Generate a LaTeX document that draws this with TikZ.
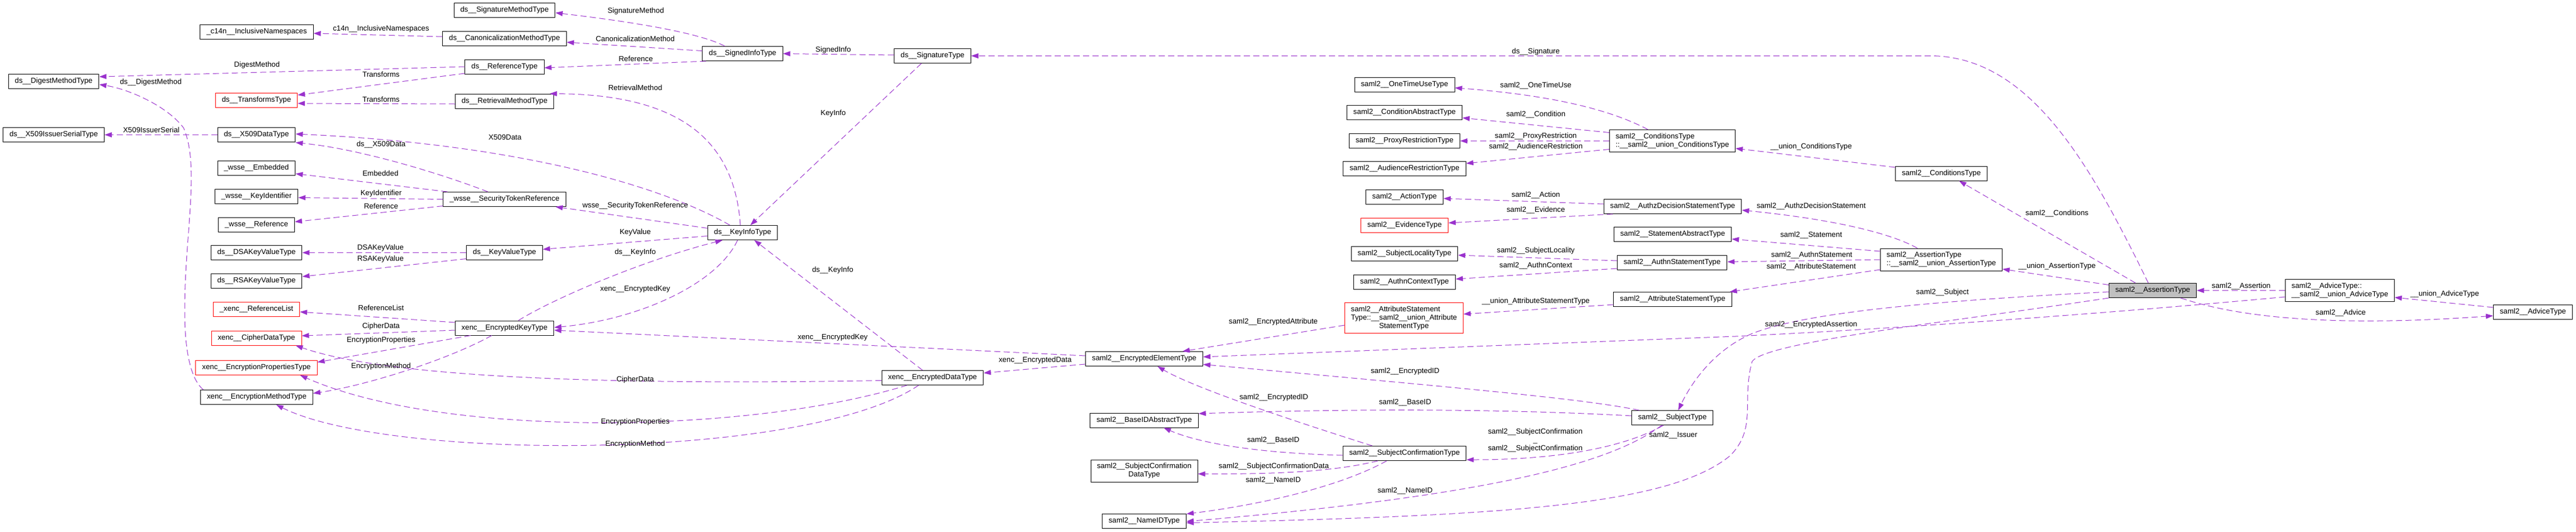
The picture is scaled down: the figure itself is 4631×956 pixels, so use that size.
\documentclass[tikz,border=0pt]{standalone}
\usepackage{fontspec}
\setmainfont{Liberation Sans}
\usetikzlibrary{arrows.meta,calc}
\definecolor{edgec}{HTML}{9A32CD}
\definecolor{rootfill}{HTML}{BFBFBF}
\begin{document}
\begin{tikzpicture}[x=1pt,y=-1pt,font=\fontsize{13.3}{15}\selectfont,
 cls/.style={draw=black, line width=1pt, fill=white, inner xsep=11.5pt, inner ysep=0pt, minimum height=26pt, text height=9.6pt, text depth=2.9pt},
 redcls/.style={cls, draw=red},
 rootcls/.style={cls, fill=rootfill},
 mcls/.style={draw=black, line width=1pt, fill=white, inner xsep=11pt, inner ysep=5pt},
 redmcls/.style={mcls, draw=red},
 lbl/.style={inner sep=0pt},
 edge/.style={draw=edgec, line width=1pt, dash pattern=on 11pt off 6pt, -{Triangle[length=13pt,width=9pt]}}]
\fill[white] (0,0) rectangle (4631,956);
\useasboundingbox (0,0) rectangle (4631,956);
% ---------- nodes ----------
\node[cls] (dmt) at (96.5,146) {ds\_\_DigestMethodType};
\node[cls] (x509is) at (96.5,242.5) {ds\_\_X509IssuerSerialType};
\node[cls] (c14n) at (461.5,57) {\_c14n\_\_InclusiveNamespaces};
\node[redcls] (transforms) at (461,180) {ds\_\_TransformsType};
\node[cls] (x509data) at (461,242.5) {ds\_\_X509DataType};
\node[cls] (embedded) at (461,302.5) {\_wsse\_\_Embedded};
\node[cls] (keyid) at (461,353.5) {\_wsse\_\_KeyIdentifier};
\node[cls] (wref) at (461,404) {\_wsse\_\_Reference};
\node[cls] (dsa) at (461,454.5) {ds\_\_DSAKeyValueType};
\node[cls] (rsa) at (461,505.5) {ds\_\_RSAKeyValueType};
\node[redcls] (reflist) at (461,556) {\_xenc\_\_ReferenceList};
\node[redcls] (cipherdata) at (461,608) {xenc\_\_CipherDataType};
\node[redcls] (encprops) at (461,661.5) {xenc\_\_EncryptionPropertiesType};
\node[cls] (encmethod) at (461.5,714.5) {xenc\_\_EncryptionMethodType};
\node[cls] (sigmethod) at (907,18) {ds\_\_SignatureMethodType};
\node[cls] (canon) at (907,69) {ds\_\_CanonicalizationMethodType};
\node[cls] (reftype) at (907,120) {ds\_\_ReferenceType};
\node[cls] (retrieval) at (907,182) {ds\_\_RetrievalMethodType};
\node[cls] (str) at (907,358.5) {\_wsse\_\_SecurityTokenReference};
\node[cls] (kvt) at (907,454.5) {ds\_\_KeyValueType};
\node[cls] (ekt) at (907,590) {xenc\_\_EncryptedKeyType};
\node[cls] (signedinfo) at (1335,96.5) {ds\_\_SignedInfoType};
\node[cls] (keyinfo) at (1335,418.5) {ds\_\_KeyInfoType};
\node[cls] (signature) at (1676.5,100.5) {ds\_\_SignatureType};
\node[cls] (edt) at (1676.5,679.5) {xenc\_\_EncryptedDataType};
\node[cls] (eet) at (2057,645.5) {saml2\_\_EncryptedElementType};
\node[cls] (baseid) at (2057,756) {saml2\_\_BaseIDAbstractType};
\node[mcls] (scdt) at (2057,847) {\begin{tabular}{@{}c@{}}saml2\_\_SubjectConfirmation\\DataType\end{tabular}};
\node[cls] (nameid) at (2057,937.5) {saml2\_\_NameIDType};
\node[cls] (otu) at (2525,152.5) {saml2\_\_OneTimeUseType};
\node[cls] (condabs) at (2525,202.5) {saml2\_\_ConditionAbstractType};
\node[cls] (proxy) at (2525,253.5) {saml2\_\_ProxyRestrictionType};
\node[cls] (audience) at (2525,303.5) {saml2\_\_AudienceRestrictionType};
\node[cls] (action) at (2525,354) {saml2\_\_ActionType};
\node[redcls] (evidence) at (2525,405.5) {saml2\_\_EvidenceType};
\node[cls] (sublocality) at (2525,456) {saml2\_\_SubjectLocalityType};
\node[cls] (authnctx) at (2525,507) {saml2\_\_AuthnContextType};
\node[redmcls] (attrunion) at (2524,572) {\begin{tabular}{@{}l@{}}saml2\_\_AttributeStatement\\Type::\_\_saml2\_\_union\_Attribute\\\multicolumn{1}{@{}c@{}}{StatementType}\end{tabular}};
\node[cls] (sct) at (2525,815.5) {saml2\_\_SubjectConfirmationType};
\node[mcls] (condunion) at (3006.5,253.5) {\begin{tabular}{@{}l@{}}saml2\_\_ConditionsType\\::\_\_saml2\_\_union\_ConditionsType\end{tabular}};
\node[cls] (authz) at (3007,371.5) {saml2\_\_AuthzDecisionStatementType};
\node[cls] (stmtabs) at (3007,421.5) {saml2\_\_StatementAbstractType};
\node[cls] (authnstmt) at (3006,472) {saml2\_\_AuthnStatementType};
\node[cls] (attrstmt) at (3007,538.5) {saml2\_\_AttributeStatementType};
\node[cls] (subject) at (3006.5,751.5) {saml2\_\_SubjectType};
\node[cls] (conditions) at (3490,312) {saml2\_\_ConditionsType};
\node[mcls] (assertunion) at (3490,467) {\begin{tabular}{@{}l@{}}saml2\_\_AssertionType\\::\_\_saml2\_\_union\_AssertionType\end{tabular}};
\node[rootcls] (assertion) at (3870,522.5) {saml2\_\_AssertionType};
\node[mcls] (adviceunion) at (4206.5,522.5) {\begin{tabular}{@{}l@{}}saml2\_\_AdviceType::\\\_\_saml2\_\_union\_AdviceType\end{tabular}};
\node[cls] (advice) at (4553.5,561) {saml2\_\_AdviceType};
% ---------- edges ----------
\draw[edge] (reftype.west) -- ($(dmt.east)+(0,-8)$);
\draw[edge] ($(encmethod.north)+(-96,0)$) .. controls (340,680) and (332,620) .. (332,560) .. controls (332,420) and (360,300) .. (330,230) .. controls (300,190) and (230,160) .. ($(dmt.east)+(0,6)$);
\draw[edge] (x509data.west) -- (x509is.east);
\draw[edge] ($(canon.west)+(0,-3)$) -- ($(c14n.east)+(0,3)$);
\draw[edge] ($(reftype.west)+(0,12)$) -- ($(transforms.east)+(0,-9)$);
\draw[edge] ($(retrieval.west)+(0,5)$) -- ($(transforms.east)+(0,6)$);
\draw[edge] ($(keyinfo.north)+(-23,0)$) .. controls (1200,340) and (950,260) .. ($(x509data.east)+(0,-1.5)$);
\draw[edge] ($(str.north)+(-30,0)$) .. controls (800,315) and (650,268) .. ($(x509data.east)+(0,14)$);
\draw[edge] ($(str.north west)+(8,0)$) -- ($(embedded.east)+(0,10)$);
\draw[edge] (str.west) -- ($(keyid.east)+(0,2)$);
\draw[edge] ($(str.west)+(0,12)$) -- ($(wref.east)+(0,-5)$);
\draw[edge] ($(keyinfo.west)+(0,-8)$) -- ($(str.south east)+(-19,0)$);
\draw[edge] (kvt.west) -- (dsa.east);
\draw[edge] ($(kvt.west)+(0,11)$) -- ($(rsa.east)+(0,-8)$);
\draw[edge] ($(keyinfo.west)+(0,6)$) -- ($(kvt.east)+(0,-6)$);
\draw[edge] ($(ekt.north)+(25,0)$) .. controls (990,540) and (1150,470) .. ($(keyinfo.south)+(-36,0)$);
\draw[edge] ($(keyinfo.south)+(-9,0)$) .. controls (1290,510) and (1150,575) .. ($(ekt.east)+(0,-1)$);
\draw[edge] ($(ekt.west)+(0,-10)$) -- ($(reflist.east)+(0,5)$);
\draw[edge] ($(ekt.west)+(0,4)$) -- ($(cipherdata.east)+(0,-4)$);
\draw[edge] ($(ekt.south)+(-61,0)$) -- ($(encprops.east)+(0,-10)$);
\draw[edge] ($(ekt.south)+(-23,0)$) .. controls (800,650) and (650,695) .. ($(encmethod.east)+(0,-7)$);
\draw[edge] ($(edt.west)+(0,5)$) .. controls (1100,693) and (700,680) .. ($(cipherdata.south east)+(-11,0)$);
\draw[edge] ($(edt.south)+(-46,0)$) .. controls (1350,780) and (800,790) .. ($(encprops.south east)+(-31,0)$);
\draw[edge] ($(edt.south)+(-25,0)$) .. controls (1450,830) and (700,830) .. ($(encmethod.south)+(35,0)$);
\draw[edge] ($(signedinfo.north)+(-32,0)$) .. controls (1250,55) and (1100,35) .. ($(sigmethod.east)+(0,5)$);
\draw[edge] ($(signedinfo.west)+(0,-5)$) -- ($(canon.east)+(0,7)$);
\draw[edge] ($(signedinfo.south west)+(7,0)$) -- ($(reftype.east)+(0,2)$);
\draw[edge] ($(signature.west)+(0,-1.5)$) -- (signedinfo.east);
\draw[edge] ($(signature.south)+(-20,0)$) -- ($(keyinfo.north)+(14,0)$);
\draw[edge] ($(edt.north)+(-18,0)$) -- ($(keyinfo.south)+(21,0)$);
\draw[edge] ($(keyinfo.north)+(-4,0)$) .. controls (1320,250) and (1220,170) .. ($(retrieval.north east)+(-8,0)$);
\draw[edge] ($(eet.west)+(0,-5.5)$) -- ($(ekt.east)+(0,4)$);
\draw[edge] ($(eet.west)+(0,9.5)$) -- ($(edt.east)+(0,-8.5)$);
\draw[edge] ($(assertion.north)+(-8,0)$) .. controls (3760,300) and (3650,100.5) .. (3470,100.5) -- (signature.east);
\draw[edge] ($(condunion.north)+(-44,0)$) .. controls (2900,200) and (2800,172) .. ($(otu.east)+(0,5.5)$);
\draw[edge] ($(condunion.west)+(0,-15)$) -- ($(condabs.east)+(0,9.5)$);
\draw[edge] (condunion.west) -- (proxy.east);
\draw[edge] ($(condunion.west)+(0,15)$) -- ($(audience.east)+(0,-9.5)$);
\draw[edge] ($(authz.west)+(0,-4.5)$) -- ($(action.east)+(0,3)$);
\draw[edge] ($(authz.south west)+(17,0)$) -- ($(evidence.east)+(0,-4.5)$);
\draw[edge] ($(authnstmt.west)+(0,-3)$) -- ($(sublocality.east)+(0,3)$);
\draw[edge] ($(authnstmt.west)+(0,11)$) -- ($(authnctx.east)+(0,-5)$);
\draw[edge] ($(attrstmt.west)+(0,9.5)$) -- ($(attrunion.east)+(0,-7)$);
\draw[edge] ($(attrunion.west)+(0,13)$) -- ($(eet.north east)+(-37,0)$);
\draw[edge] ($(assertunion.north)+(-43,0)$) .. controls (3400,420) and (3300,395) .. ($(authz.east)+(0,6.5)$);
\draw[edge] ($(assertunion.west)+(0,-15)$) -- ($(stmtabs.east)+(0,8.5)$);
\draw[edge] (assertunion.west) -- ($(authnstmt.east)+(0,-1)$);
\draw[edge] ($(assertunion.west)+(0,18)$) -- ($(attrstmt.north east)+(-4,0)$);
\draw[edge] ($(conditions.west)+(0,-11)$) -- ($(condunion.east)+(0,13.5)$);
\draw[edge] ($(assertion.north)+(-31,0)$) -- ($(conditions.south)+(32,0)$);
\draw[edge] ($(assertion.west)+(0,-10)$) -- ($(assertunion.east)+(0,17)$);
\draw[edge] ($(assertion.west)+(0,2.5)$) .. controls (3500,540) and (3250,560) .. (3150,600) .. controls (3080,630) and (3040,690) .. ($(subject.north)+(10.5,0)$);
\draw[edge] ($(adviceunion.west)+(0,11.5)$) .. controls (3800,563) and (3400,592) .. (3120,605) -- ($(eet.east)+(0,-3.5)$);
\draw[edge] (assertion.south west) .. controls (3500,580) and (3175,615) .. (3150,650) .. controls (3130,720) and (3160,770) .. (3110,820) .. controls (3000,910) and (2700,928) .. ($(nameid.east)+(0,3)$);
\draw[edge] (adviceunion.west) -- (assertion.east);
\draw[edge] ($(advice.west)+(0,-8)$) -- ($(adviceunion.east)+(0,12.5)$);
\draw[edge] ($(assertion.south east)+(-29,0)$) .. controls (4050,580) and (4250,585) .. ($(advice.west)+(0,7)$);
\draw[edge] ($(subject.north west)+(14,0)$) .. controls (2850,718) and (2650,700) .. ($(eet.east)+(0,10)$);
\draw[edge] ($(subject.west)+(0,-3.5)$) .. controls (2750,738) and (2500,733) .. ($(baseid.east)+(0,-12)$);
\draw[edge] ($(subject.south)+(-19,0)$) .. controls (2900,830) and (2700,890) .. ($(nameid.east)+(0,0.5)$);
\draw[edge] ($(subject.south)+(-16,0)$) .. controls (2920,805) and (2800,827) .. ($(sct.east)+(0,11.5)$);
\draw[edge] ($(sct.north)+(-58,0)$) .. controls (2350,765) and (2150,700) .. ($(eet.south)+(24,0)$);
\draw[edge] ($(sct.west)+(0,3.5)$) .. controls (2250,815) and (2150,795) .. ($(baseid.south)+(35,0)$);
\draw[edge] ($(sct.south)+(-48,0)$) .. controls (2400,848) and (2300,853) .. ($(scdt.east)+(0,5.5)$);
\draw[edge] ($(sct.south)+(-32,0)$) .. controls (2400,880) and (2250,910) .. ($(nameid.east)+(0,-13)$);
% ---------- edge labels ----------
\node[lbl] (l1) at (462,117) {DigestMethod};
\node[lbl] (l2) at (271,148) {ds\_\_DigestMethod};
\node[lbl] (l3) at (272,234) {X509IssuerSerial};
\node[lbl] (l4) at (685,52) {c14n\_\_InclusiveNamespaces};
\node[lbl] (l5) at (685,134) {Transforms};
\node[lbl] (l6) at (685,179) {Transforms};
\node[lbl] (l7) at (908,247) {X509Data};
\node[lbl] (l8) at (685,260) {ds\_\_X509Data};
\node[lbl] (l9) at (684,312) {Embedded};
\node[lbl] (l10) at (685,348) {KeyIdentifier};
\node[lbl] (l11) at (685,371) {Reference};
\node[lbl] (l12) at (684,446) {DSAKeyValue};
\node[lbl] (l13) at (684,466) {RSAKeyValue};
\node[lbl] (l14) at (685,554) {ReferenceList};
\node[lbl] (l15) at (685,587) {CipherData};
\node[lbl] (l16) at (685,612) {EncryptionProperties};
\node[lbl] (l17) at (685,659) {EncryptionMethod};
\node[lbl] (l18) at (1143,20) {SignatureMethod};
\node[lbl] (l19) at (1142,70) {CanonicalizationMethod};
\node[lbl] (l20) at (1143,106) {Reference};
\node[lbl] (l21) at (1142,158) {RetrievalMethod};
\node[lbl] (l22) at (1142,370) {wsse\_\_SecurityTokenReference};
\node[lbl] (l23) at (1142,418) {KeyValue};
\node[lbl] (l24) at (1142,454) {ds\_\_KeyInfo};
\node[lbl] (l25) at (1142,520) {xenc\_\_EncryptedKey};
\node[lbl] (l26) at (1142,683) {CipherData};
\node[lbl] (l27) at (1142,759) {EncryptionProperties};
\node[lbl] (l28) at (1142,799) {EncryptionMethod};
\node[lbl] (l29) at (1498,90) {SignedInfo};
\node[lbl] (l30) at (1498,204) {KeyInfo};
\node[lbl] (l31) at (1497,486) {ds\_\_KeyInfo};
\node[lbl] (l32) at (1497,607) {xenc\_\_EncryptedKey};
\node[lbl] (l33) at (1861,648) {xenc\_\_EncryptedData};
\node[lbl] (l34) at (2761,93) {ds\_\_Signature};
\node[lbl] (l35) at (2761,154) {saml2\_\_OneTimeUse};
\node[lbl] (l36) at (2761,206) {saml2\_\_Condition};
\node[lbl] (l37) at (2761,245) {saml2\_\_ProxyRestriction};
\node[lbl] (l38) at (2761,264) {saml2\_\_AudienceRestriction};
\node[lbl] (l39) at (2761,351) {saml2\_\_Action};
\node[lbl] (l40) at (2761,378) {saml2\_\_Evidence};
\node[lbl] (l41) at (2761,451) {saml2\_\_SubjectLocality};
\node[lbl] (l42) at (2761,478) {saml2\_\_AuthnContext};
\node[lbl] (l43) at (2761,542) {\_\_union\_AttributeStatementType};
\node[lbl] (l44) at (2289,579) {saml2\_\_EncryptedAttribute};
\node[lbl] (l45) at (2526,668) {saml2\_\_EncryptedID};
\node[lbl] (l46) at (2290,715) {saml2\_\_EncryptedID};
\node[lbl] (l47) at (2526,724) {saml2\_\_BaseID};
\node[lbl] (l48) at (2289,792) {saml2\_\_BaseID};
\node[lbl] (l49) at (2290,839) {saml2\_\_SubjectConfirmationData};
\node[lbl] (l50) at (2289,864) {saml2\_\_NameID};
\node[lbl] (l51) at (2526,883) {saml2\_\_NameID};
\node[lbl] (l52) at (2760,792) {\begin{tabular}{@{}c@{}}saml2\_\_SubjectConfirmation\\\_\\saml2\_\_SubjectConfirmation\end{tabular}};
\node[lbl] (l53) at (3008,783) {saml2\_\_Issuer};
\node[lbl] (l54) at (3256,264) {\_\_union\_ConditionsType};
\node[lbl] (l55) at (3256,371) {saml2\_\_AuthzDecisionStatement};
\node[lbl] (l56) at (3256,423) {saml2\_\_Statement};
\node[lbl] (l57) at (3257,459) {saml2\_\_AuthnStatement};
\node[lbl] (l58) at (3256,480) {saml2\_\_AttributeStatement};
\node[lbl] (l59) at (3256,584) {saml2\_\_EncryptedAssertion};
\node[lbl] (l60) at (3698,384) {saml2\_\_Conditions};
\node[lbl] (l61) at (3698,479) {\_\_union\_AssertionType};
\node[lbl] (l62) at (3492,526) {saml2\_\_Subject};
\node[lbl] (l63) at (4029,515) {saml2\_\_Assertion};
\node[lbl] (l64) at (4395,529) {\_\_union\_AdviceType};
\node[lbl] (l65) at (4208,563) {saml2\_\_Advice};
\end{tikzpicture}
\end{document}
